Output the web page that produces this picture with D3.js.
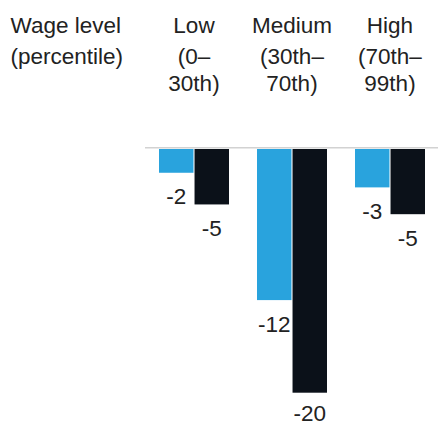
<!DOCTYPE html>
<html>
<head>
<meta charset="utf-8">
<script src="https://cdn.jsdelivr.net/npm/d3@7"></script>
<style>
  html, body { margin: 0; padding: 0; background: #fff; }
  svg { display: block; }
  text { font-family: "Liberation Sans", Arial, sans-serif; fill: #222; }
</style>
</head>
<body>
<svg id="chart" width="438" height="425"></svg>
<script>
// Data
const categories = ["Low", "Medium", "High"];
const categoryLines = [["Low", "(0–", "30th)"], ["Medium", "(30th–", "70th)"], ["High", "(70th–", "99th)"]];
const headerLines = ["Wage level", "(percentile)"];
const seriesNames = ["Series A", "Series B"];
const seriesA = [-1.95, -12.4, -3.15];
const seriesB = [-4.55, -20, -5.35];
const labelsA = ["-2", "-12", "-3"];
const labelsB = ["-5", "-20", "-5"];
const colors = ["#29a3dd", "#0b1119"];

const svg = d3.select("#chart");

const x = d3.scaleBand().domain(categories).range([145, 439]).paddingInner(0.2857).paddingOuter(0.1429);
const xs = d3.scaleBand().domain(seriesNames).range([0, x.bandwidth()]).paddingInner(0.03);
const y = d3.scaleLinear().domain([0, -20]).range([149, 392.7]);

// header
const lineYs = [33, 63.5, 91];
svg.append("g").selectAll("text").data(headerLines).join("text")
  .attr("x", 10.5).attr("y", (d, i) => lineYs[i])
  .attr("font-size", 22.5).text(d => d);

categories.forEach((c, ci) => {
  svg.append("g").selectAll("text").data(categoryLines[ci]).join("text")
    .attr("x", x(c) + x.bandwidth() / 2).attr("y", (d, i) => lineYs[i])
    .attr("text-anchor", "middle").attr("font-size", 22.5).text(d => d);
});

// baseline
svg.append("line").attr("x1", 145).attr("x2", 438)
  .attr("y1", y(0) - 1.2).attr("y2", y(0) - 1.2)
  .attr("stroke", "#d2d2d2").attr("stroke-width", 1.6);

const data = [];
categories.forEach((c, i) => {
  data.push({c, s: seriesNames[0], v: seriesA[i], label: labelsA[i], color: colors[0]});
  data.push({c, s: seriesNames[1], v: seriesB[i], label: labelsB[i], color: colors[1]});
});

svg.append("g").selectAll("rect").data(data).join("rect")
  .attr("x", d => x(d.c) + xs(d.s))
  .attr("width", xs.bandwidth())
  .attr("y", y(0))
  .attr("height", d => y(d.v) - y(0))
  .attr("fill", d => d.color);

svg.append("g").selectAll("text").data(data).join("text")
  .attr("x", d => x(d.c) + xs(d.s) + xs.bandwidth() / 2)
  .attr("y", d => Math.min(y(d.v) + 31.5, 421))
  .attr("text-anchor", "middle")
  .attr("font-size", 22.5)
  .text(d => d.label);
</script>
</body>
</html>
